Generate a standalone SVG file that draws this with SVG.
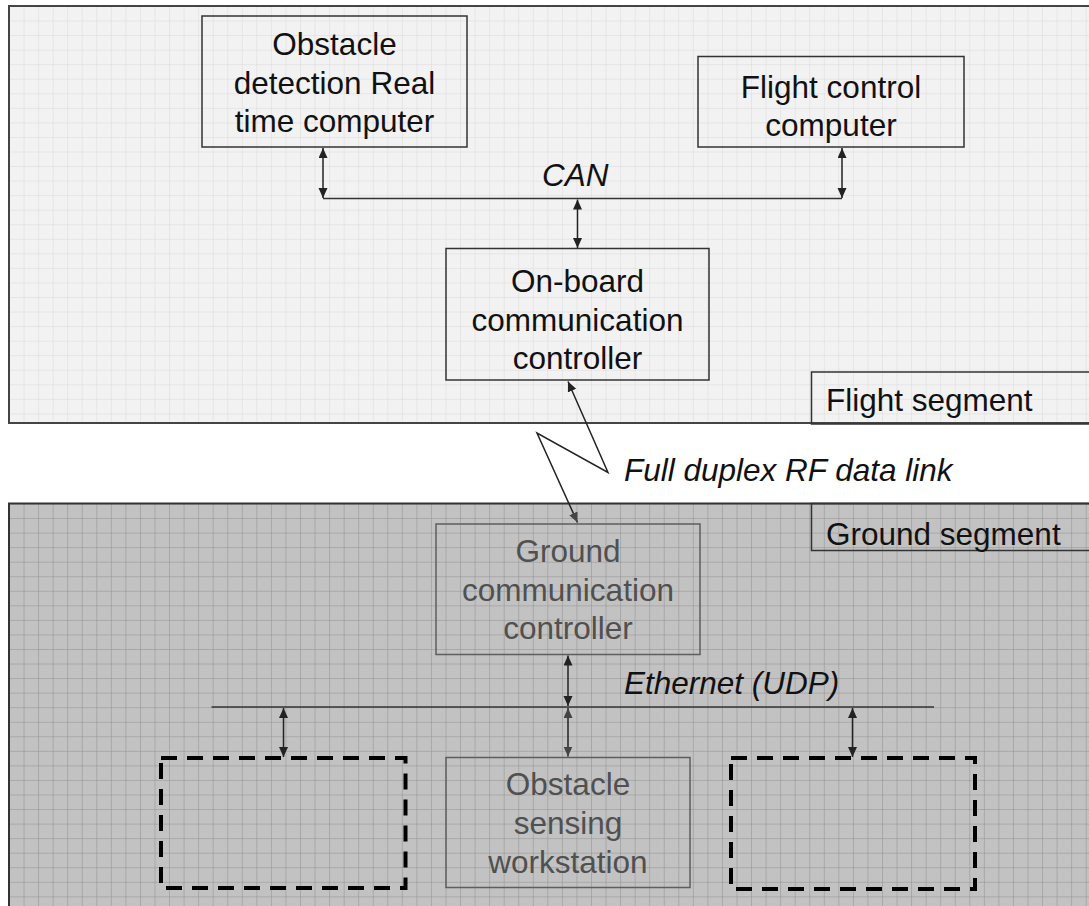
<svg xmlns="http://www.w3.org/2000/svg" width="1089" height="906" viewBox="0 0 1089 906">
<style>
text{font-family:"Liberation Sans",Arial,sans-serif;font-size:31.5px;text-anchor:middle;fill:#111}
.lbl{text-anchor:start}
.it{font-style:italic;text-anchor:start}
.box{fill:none;stroke:#333;stroke-width:1.5}
.gbox{fill:none;stroke:#5e5e5e;stroke-width:1.5}
.gtxt{fill:#505050}
.dash{fill:none;stroke:#000;stroke-width:4;stroke-dasharray:16 10}
.conn{fill:none;stroke:#222;stroke-width:1.5}
.bus{fill:none;stroke:#333;stroke-width:1.5}
</style>
<defs>
<pattern id="gridT" patternUnits="userSpaceOnUse" x="9" y="6" width="14.55" height="14.55">
<rect width="14.55" height="14.55" fill="#f2f2f2"/>
<path d="M0,0 H14.55 M0,0 V14.55" stroke="#d9d9d9" stroke-width="1"/>
</pattern>
<pattern id="gridB" patternUnits="userSpaceOnUse" x="9" y="503.5" width="14.55" height="14.55">
<rect width="14.55" height="14.55" fill="#c2c2c2"/>
<path d="M0,0 H14.55 M0,0 V14.55" stroke="#8e8e8e" stroke-width="1"/>
</pattern>
<marker id="ah" markerUnits="userSpaceOnUse" markerWidth="10" markerHeight="10" refX="10" refY="4.5" orient="auto-start-reverse">
<path d="M0,0 L10,4.5 L0,9 z" fill="#222"/>
</marker>
<marker id="ahg" markerUnits="userSpaceOnUse" markerWidth="10" markerHeight="10" refX="10" refY="4.5" orient="auto-start-reverse">
<path d="M0,0 L10,4.5 L0,9 z" fill="#444"/>
</marker>
</defs>
<rect width="1089" height="906" fill="#fff"/>
<g id="flight-segment">
<rect x="9" y="6" width="1090" height="417" fill="url(#gridT)" stroke="#444" stroke-width="2"/>
</g>
<g id="ground-segment">
<rect x="9" y="503.5" width="1090" height="420" fill="url(#gridB)" stroke="#333" stroke-width="2"/>
</g>
<g id="flight-segment-label">
<rect x="811.5" y="372" width="290" height="52" fill="none" stroke="#333" stroke-width="1.5"/>
<text class="lbl" x="826" y="411">Flight segment</text>
</g>
<g id="ground-segment-label">
<rect x="811.5" y="503.5" width="290" height="47" fill="none" stroke="#333" stroke-width="1.5"/>
<text class="lbl" x="826" y="545">Ground segment</text>
</g>
<g id="obstacle-detection">
<rect class="box" x="202" y="16" width="265" height="131"/>
<text x="334.5" y="55">Obstacle</text>
<text x="334.5" y="94">detection Real</text>
<text x="334.5" y="132">time computer</text>
</g>
<g id="flight-control">
<rect class="box" x="698" y="56.5" width="266" height="90.5"/>
<text x="831" y="98">Flight control</text>
<text x="831" y="136">computer</text>
</g>
<g id="onboard-comm">
<rect class="box" x="446" y="248.5" width="263" height="131.5"/>
<text x="577.5" y="292">On-board</text>
<text x="577.5" y="331">communication</text>
<text x="577.5" y="369">controller</text>
</g>
<g id="ground-comm">
<rect class="gbox" x="436" y="524" width="264" height="130.5"/>
<text class="gtxt" x="568" y="562">Ground</text>
<text class="gtxt" x="568" y="601">communication</text>
<text class="gtxt" x="568" y="639">controller</text>
</g>
<g id="obstacle-sensing">
<rect class="gbox" x="446" y="757.5" width="244" height="130"/>
<text class="gtxt" x="568" y="795">Obstacle</text>
<text class="gtxt" x="568" y="834">sensing</text>
<text class="gtxt" x="568" y="873">workstation</text>
</g>
<g id="placeholder-left">
<rect class="dash" x="161" y="758" width="244.5" height="130"/>
</g>
<g id="placeholder-right">
<rect class="dash" x="731" y="758" width="244" height="131"/>
</g>
<g id="connectors">
<line class="bus" x1="323" y1="198.5" x2="842" y2="198.5"/>
<line class="conn" x1="323" y1="148" x2="323" y2="198" marker-start="url(#ah)" marker-end="url(#ah)"/>
<line class="conn" x1="842" y1="148" x2="842" y2="198" marker-start="url(#ah)" marker-end="url(#ah)"/>
<line class="conn" x1="577.5" y1="199.5" x2="577.5" y2="248" marker-start="url(#ah)" marker-end="url(#ah)"/>
<polyline class="conn" points="568,381.5 608,472.5 537,433 577.5,522.5" marker-start="url(#ah)" marker-end="url(#ahg)"/>
<line class="bus" x1="211.5" y1="707" x2="934" y2="707"/>
<line class="conn" x1="568" y1="655.5" x2="568" y2="706" marker-start="url(#ah)" marker-end="url(#ah)"/>
<line class="conn" x1="568" y1="708" x2="568" y2="756.5" stroke="#444" marker-start="url(#ahg)" marker-end="url(#ahg)"/>
<line class="conn" x1="283.5" y1="708" x2="283.5" y2="757" marker-start="url(#ah)" marker-end="url(#ah)"/>
<line class="conn" x1="852.5" y1="708" x2="852.5" y2="757" marker-start="url(#ah)" marker-end="url(#ah)"/>
</g>
<g id="labels">
<text class="it" x="542" y="186">CAN</text>
<text class="it" x="624" y="481">Full duplex RF data link</text>
<text class="it" x="624" y="694">Ethernet (UDP)</text>
</g>
</svg>
